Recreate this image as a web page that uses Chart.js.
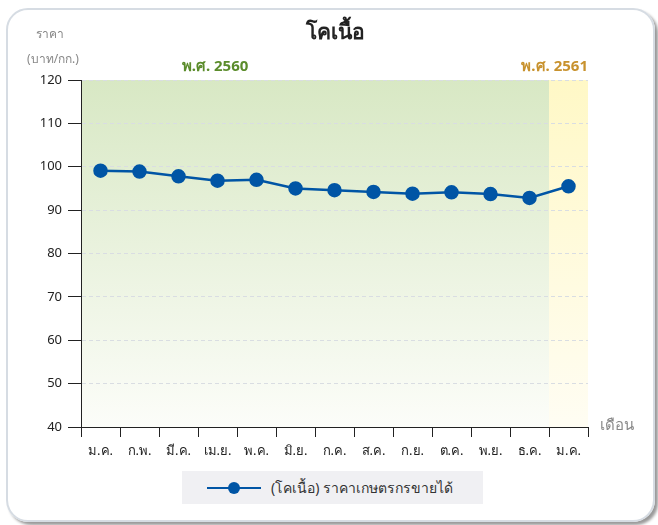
<!DOCTYPE html>
<html>
<head>
<meta charset="utf-8">
<script src="https://cdn.jsdelivr.net/npm/chart.js@4/dist/chart.umd.min.js"></script>
<style>
  body { margin: 0; background: #fff; font-family: "Noto Sans", "DejaVu Sans", sans-serif; }
  #wrap { position: relative; width: 658px; height: 525px; overflow: hidden; }
  #frame {
    position: absolute; left: 6px; top: 8px; width: 645px; height: 510px;
    border: 2px solid #d6dce3; border-radius: 22px;
    box-shadow: 3px 3px 3px rgba(0,0,0,0.4);
  }
  #c { position: absolute; left: 0; top: 0; }
  #legend {
    position: absolute; left: 182px; top: 471px; width: 301px; height: 33px;
    background: #f0f0f3; display: flex; align-items: center; font-size: 14px; color: #333;
  }
  #legend .mark { position: relative; width: 54px; height: 12px; margin-left: 25px; margin-right: 10px; }
  #legend .mark::before { content: ""; position: absolute; left: 0; right: 0; top: 5px; height: 2.5px; background: #0055a5; }
  #legend .mark::after { content: ""; position: absolute; left: 21px; top: 0; width: 12px; height: 12px; border-radius: 50%; background: #0055a5; }
</style>
</head>
<body>
<div id="wrap">
  <div id="frame"></div>
  <canvas id="c" width="658" height="525"></canvas>
  <div id="legend"><span class="mark"></span><span id="legendText"></span></div>
</div>
<script>
const months = ['ม.ค.', 'ก.พ.', 'มี.ค.', 'เม.ย.', 'พ.ค.', 'มิ.ย.', 'ก.ค.', 'ส.ค.', 'ก.ย.', 'ต.ค.', 'พ.ย.', 'ธ.ค.', 'ม.ค.'];
const prices = [99.1, 98.9, 97.8, 96.8, 97.0, 95.0, 94.6, 94.2, 93.8, 94.1, 93.7, 92.8, 95.5];
const seriesName = '(โคเนื้อ) ราคาเกษตรกรขายได้';
const yMin = 40, yMax = 120, yStep = 10;
const FONT = '"Noto Sans", "DejaVu Sans", sans-serif';

document.getElementById('legendText').textContent = seriesName;

// shaded year bands behind the plot
const bands = {
  id: 'bands',
  beforeDraw(chart) {
    const { ctx, chartArea: a, scales } = chart;
    const split = (scales.x.getPixelForValue(11) + scales.x.getPixelForValue(12)) / 2;
    const g1 = ctx.createLinearGradient(0, a.top, 0, a.bottom);
    g1.addColorStop(0, '#d8e8c4');
    g1.addColorStop(1, '#fcfdf9');
    const g2 = ctx.createLinearGradient(0, a.top, 0, a.bottom);
    g2.addColorStop(0, '#fff8c6');
    g2.addColorStop(1, '#fffdf3');
    ctx.save();
    ctx.fillStyle = g1;
    ctx.fillRect(a.left, a.top, split - a.left, a.bottom - a.top);
    ctx.fillStyle = g2;
    ctx.fillRect(split, a.top, a.right - split, a.bottom - a.top);
    ctx.restore();
  },
  afterDraw(chart) {
    const { ctx, chartArea: a } = chart;
    ctx.save();
    ctx.textBaseline = 'middle';
    ctx.textAlign = 'center';
    ctx.fillStyle = '#222';
    ctx.font = 'bold 21px ' + FONT;
    ctx.fillText('โคเนื้อ', 335, 33);
    ctx.fillStyle = '#888';
    ctx.font = '12px ' + FONT;
    ctx.fillText('ราคา', 50, 35);
    ctx.fillText('(บาท/กก.)', 53, 60);
    ctx.font = 'bold 15px ' + FONT;
    ctx.fillStyle = '#5b8c2b';
    ctx.fillText('พ.ศ. 2560', 215, 67);
    ctx.textAlign = 'right';
    ctx.fillStyle = '#c8922e';
    ctx.fillText('พ.ศ. 2561', a.right, 67);
    ctx.textAlign = 'left';
    ctx.fillStyle = '#888';
    ctx.font = '15px ' + FONT;
    ctx.fillText('เดือน', 600, 426);
    ctx.restore();
  }
};

new Chart(document.getElementById('c'), {
  type: 'line',
  data: {
    labels: months,
    datasets: [{
      label: seriesName,
      data: prices,
      borderColor: '#0055a5',
      backgroundColor: '#0055a5',
      borderWidth: 2.5,
      pointRadius: 6,
      pointHoverRadius: 6,
      tension: 0
    }]
  },
  options: {
    responsive: false,
    animation: false,
    layout: { padding: { top: 80, right: 70, left: 0, bottom: 0 } },
    plugins: { legend: { display: false }, title: { display: false }, tooltip: { enabled: false } },
    scales: {
      x: {
        offset: true,
        grid: { offset: true, drawOnChartArea: false, drawTicks: true, tickLength: 10, color: '#222', lineWidth: 1 },
        border: { color: '#222', width: 1 },
        ticks: { color: '#222', font: { family: FONT, size: 13 }, padding: 6, maxRotation: 0, autoSkip: false },
        afterFit(s) { s.height = 98; }
      },
      y: {
        min: yMin, max: yMax,
        grid: { color: '#d9dde2', tickColor: '#222', tickLength: 13, lineWidth: 1 },
        border: { color: '#222', width: 1, dash: [4, 3] },
        ticks: { stepSize: yStep, color: '#222', font: { family: FONT, size: 13 }, padding: 6 },
        afterFit(s) { s.width = 81; }
      }
    }
  },
  plugins: [bands]
});
</script>
</body>
</html>
